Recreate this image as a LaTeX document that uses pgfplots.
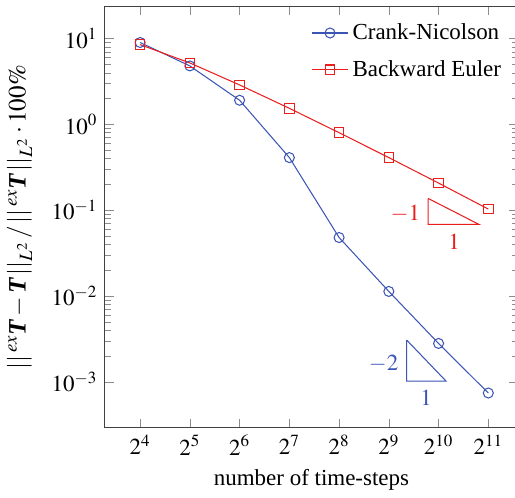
\documentclass[border=0pt]{standalone}
\usepackage{mathptmx}
\usepackage{fontspec}
\setmainfont{Liberation Serif}
\usepackage{pgfplots}
\pgfplotsset{compat=1.18}
\definecolor{cnblue}{RGB}{60,85,180}
\definecolor{bered}{RGB}{235,30,30}
\newcommand{\bT}{\mbox{\bfseries\itshape T}}
\newcommand{\fs}{\fontsize{11}{13}\selectfont}
\begin{document}
\begin{tikzpicture}
\begin{axis}[
  scale only axis,
  width=198pt, height=202pt,
  xmode=log, log basis x=2,
  ymode=log,
  xmin=9.78, xmax=3104,
  ymin=2.9e-4, ymax=23.8,
  xtick={16,32,64,128,256,512,1024,2048},
  ytick={1e-3,1e-2,1e-1,1e0,1e1},
  axis line style={black!75},
  tick style={black!45},
  tick label style={font=\fs},
  xlabel={number of time-steps},
  xlabel style={font=\fs},
  ylabel={$||\,^{ex}\bT - \bT\,||_{L^2}\,/\,||\,^{ex}\bT\,||_{L^2}\cdot 100\%$},
  ylabel style={font=\large},
  ylabel shift=2.5pt,
  legend style={draw=none, fill=none, at={(0.985,0.98)}, anchor=north east, row sep=4.5pt, font=\fs},
  legend cell align=left,
  every axis plot/.append style={line width=0.5pt},
]
\addplot[cnblue, mark=o, mark size=2.4pt] coordinates {
(16,9.0)(32,4.8)(64,1.91)(128,0.41)(256,0.048)(512,0.0113)(1024,0.0028)(2048,7.4e-4)};
\addlegendentry{Crank-Nicolson}
\addplot[bered, mark=square, mark size=2.3pt] coordinates {
(16,8.5)(32,5.2)(64,2.88)(128,1.54)(256,0.80)(512,0.41)(1024,0.207)(2048,0.103)};
\addlegendentry{Backward Euler}
\addplot[bered, no marks, forget plot] coordinates {(886,0.137)(886,0.0684)(1795,0.0684)(886,0.137)};
\addplot[cnblue, no marks, forget plot] coordinates {(657,3.06e-3)(657,1.02e-3)(1136,1.02e-3)(657,3.06e-3)};
\node[bered, font=\fs] at (axis cs:645,0.092) {$-1$};
\node[bered, font=\fs] at (axis cs:1270,0.0432) {$1$};
\node[cnblue, font=\fs] at (axis cs:476,1.63e-3) {$-2$};
\node[cnblue, font=\fs] at (axis cs:861,6.5e-4) {$1$};
\end{axis}
\pgfresetboundingbox
\path (current axis.outer south west) rectangle ([xshift=-1.5pt,yshift=3pt]current axis.north east);
\end{tikzpicture}
\end{document}
